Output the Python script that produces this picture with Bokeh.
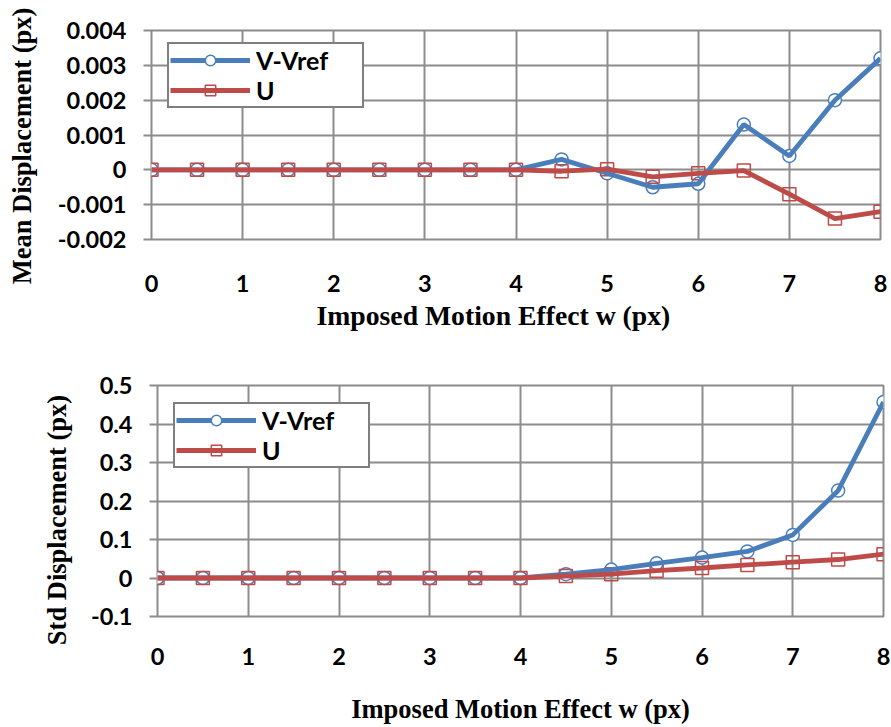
from bokeh.plotting import figure
from bokeh.models import FixedTicker, Legend, LegendItem, Title, Range1d, Label
from bokeh.embed import file_html
from bokeh.resources import INLINE

# ---------------- data ----------------
w = [0, 0.5, 1, 1.5, 2, 2.5, 3, 3.5, 4, 4.5, 5, 5.5, 6, 6.5, 7, 7.5, 8]
mean_v = [0, 0, 0, 0, 0, 0, 0, 0, 0, 0.0003, -0.0001, -0.0005, -0.0004, 0.0013, 0.0004, 0.0020, 0.0032]
mean_u = [0, 0, 0, 0, 0, 0, 0, 0, 0, -0.00004, 0.00002, -0.0002, -0.0001, -0.00002, -0.0007, -0.0014, -0.0012]
std_v = [0, 0, 0, 0, 0, 0, 0, 0, 0, 0.010, 0.022, 0.038, 0.053, 0.069, 0.112, 0.227, 0.457]
std_u = [0, 0, 0, 0, 0, 0, 0, 0, 0, 0.005, 0.010, 0.019, 0.026, 0.034, 0.041, 0.048, 0.062]

x_ticks = [0, 1, 2, 3, 4, 5, 6, 7, 8]
mean_ticks = [-0.002, -0.001, 0, 0.001, 0.002, 0.003, 0.004]
mean_tick_labels = ["-0.002", "-0.001", "0", "0.001", "0.002", "0.003", "0.004"]
std_ticks = [-0.1, 0, 0.1, 0.2, 0.3, 0.4, 0.5]
std_tick_labels = ["-0.1", "0", "0.1", "0.2", "0.3", "0.4", "0.5"]

series_names = ["V-Vref", "U"]
x_title = "Imposed Motion Effect w (px)"
mean_title = "Mean Displacement (px)"
std_title = "Std Displacement (px)"

# ---------------- style ----------------
GRID = "#8C8C8C"
BLUE = "#4A7EBB"
RED = "#BE4B48"
TICK_FONT = "Lato"
TITLE_FONT = "Liberation Serif"


def title_style():
    return dict(text_font=TITLE_FONT, text_font_style="bold", text_color="black")


def build(yv, yu, yticks, ylabels, ytitle, height, mb_top, mb_bottom, mb_left, mb_right,
          legend_xy, ytitle_xy, xtick_standoff):
    p = figure(width=891, height=height,
               x_range=Range1d(x_ticks[0], x_ticks[-1]),
               y_range=Range1d(yticks[0], yticks[-1]),
               output_backend="svg", toolbar_location=None,
               min_border_top=mb_top, min_border_bottom=mb_bottom,
               min_border_left=mb_left, min_border_right=mb_right)
    p.background_fill_color = "white"
    p.border_fill_color = "white"
    p.outline_line_color = GRID
    p.outline_line_width = 2

    p.xaxis.ticker = FixedTicker(ticks=x_ticks)
    p.yaxis.ticker = FixedTicker(ticks=yticks)
    p.yaxis.major_label_overrides = dict(zip(yticks, ylabels))
    p.xgrid.ticker = FixedTicker(ticks=x_ticks)
    p.ygrid.ticker = FixedTicker(ticks=yticks)
    p.grid.grid_line_color = GRID
    p.grid.grid_line_width = 2

    for ax in (p.xaxis[0], p.yaxis[0]):
        ax.axis_line_color = None
        ax.minor_tick_line_color = None
        ax.major_label_text_font = TICK_FONT
        ax.major_label_text_font_style = "bold"
        ax.major_label_text_font_size = "23.5px"
        ax.major_label_text_color = "black"
    p.xaxis.major_tick_line_color = None
    p.xaxis.major_tick_out = 0
    p.xaxis.major_tick_in = 0
    p.xaxis.major_label_standoff = xtick_standoff
    p.yaxis.major_tick_line_color = GRID
    p.yaxis.major_tick_line_width = 2
    p.yaxis.major_tick_out = 8
    p.yaxis.major_tick_in = 0
    p.yaxis.major_label_standoff = 17

    sv = p.scatter(w, yv, marker="circle", size=13, line_color=BLUE, line_width=1.5,
                   fill_color="white")
    su = p.scatter(w, yu, marker="square", size=13, line_color=RED, line_width=1.5,
                   fill_color=None)
    lv = p.line(w, yv, line_color=BLUE, line_width=4.8)
    lu = p.line(w, yu, line_color=RED, line_width=4.8)

    legend = Legend(items=[LegendItem(label=series_names[0], renderers=[lv, sv]),
                           LegendItem(label=series_names[1], renderers=[lu, su])],
                    location=legend_xy, margin=0, padding=1, spacing=0,
                    glyph_width=80, glyph_height=26, label_height=26, label_width=105,
                    label_standoff=6,
                    label_text_font=TICK_FONT, label_text_font_style="bold",
                    label_text_font_size="25px", label_text_color="black",
                    border_line_color="black", border_line_width=2,
                    background_fill_color="white", background_fill_alpha=1)
    p.add_layout(legend)

    # vertical axis title, positioned in canvas units inside the left side panel
    p.add_layout(Label(text=ytitle, x=ytitle_xy[0], y=ytitle_xy[1],
                       x_units="canvas", y_units="canvas", angle=90, angle_units="deg",
                       text_align="center", text_baseline="middle",
                       text_font_size="26.5px", **title_style()), "left")
    return p


top = build(mean_v, mean_u, mean_ticks, mean_tick_labels, mean_title,
            height=352, mb_top=30, mb_bottom=113, mb_left=151, mb_right=11,
            legend_xy=(16, 131), ytitle_xy=(21, 145.5), xtick_standoff=35)
# top chart: x title shifted left of the frame centre, as in the reference
top.add_layout(Title(text=x_title, align="left", offset=165, standoff=7,
                     text_font_size="27.7px", **title_style()), "below")

bottom = build(std_v, std_u, std_ticks, std_tick_labels, std_title,
               height=375, mb_top=33, mb_bottom=111, mb_left=157, mb_right=8,
               legend_xy=(16, 148), ytitle_xy=(56, 167.5), xtick_standoff=31)
bottom.xaxis.axis_label = x_title
bottom.xaxis.axis_label_standoff = 26
bottom.xaxis.axis_label_text_font = TITLE_FONT
bottom.xaxis.axis_label_text_font_style = "bold"
bottom.xaxis.axis_label_text_font_size = "26.5px"
bottom.xaxis.axis_label_text_color = "black"

open("out.html", "w").write(file_html([top, bottom], INLINE))
